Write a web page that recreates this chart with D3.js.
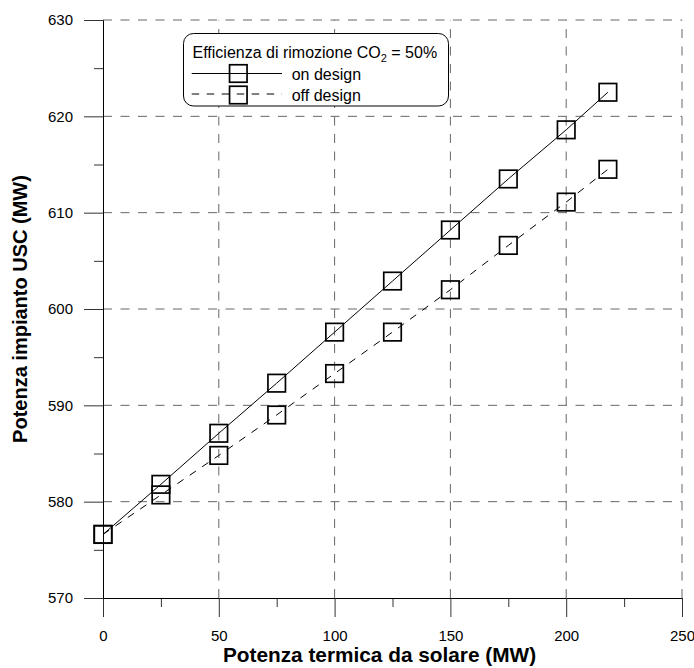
<!DOCTYPE html>
<html>
<head>
<meta charset="utf-8">
<script src="https://cdn.jsdelivr.net/npm/d3@7"></script>
<style>
  html, body { margin: 0; padding: 0; background: #fff; }
  svg { display: block; font-family: "Liberation Sans", Arial, sans-serif; }
</style>
</head>
<body>
<svg id="chart" width="694" height="668"></svg>
<script>
// ---- data ----
const solarPower = [0, 25, 50, 75, 100, 125, 150, 175, 200, 218];
const onDesign  = [576.6, 581.8, 587.1, 592.3, 597.6, 602.9, 608.2, 613.5, 618.6, 622.5];
const offDesign = [576.6, 580.7, 584.8, 589.0, 593.3, 597.6, 602.0, 606.6, 611.1, 614.5];
const xMajorTicks = [0, 50, 100, 150, 200, 250];
const xMinorTicks = [25, 75, 125, 175, 225];
const yMajorTicks = [570, 580, 590, 600, 610, 620, 630];
const yMinorTicks = [575, 585, 595, 605, 615, 625];
const legendTitle = "Efficienza di rimozione CO";
const legendLabels = ["on design", "off design"];
const xTitle = "Potenza termica da solare (MW)";
const yTitle = "Potenza impianto USC (MW)";

const svg = d3.select("#chart");
const x = d3.scaleLinear().domain([0, 250]).range([103, 682]);
const y = d3.scaleLinear().domain([570, 630]).range([598, 20]);

// ---- grid ----
const grid = svg.append("g").attr("stroke", "#666").attr("stroke-width", 1)
  .attr("stroke-dasharray", "9,8.5").attr("fill", "none");
grid.selectAll("line.h").data(yMajorTicks.slice(1)).join("line")
  .attr("x1", x(0)).attr("x2", x(250))
  .attr("y1", d => y(d)).attr("y2", d => y(d));
grid.selectAll("line.v").data(xMajorTicks.slice(1)).join("line")
  .attr("x1", d => x(d)).attr("x2", d => x(d))
  .attr("y1", y(570)).attr("y2", y(630));

// ---- axes ----
function styleAxis(g) {
  g.select(".domain").attr("stroke", "#000").attr("stroke-width", 1);
  g.selectAll(".tick line").attr("stroke", "#333").attr("stroke-width", 1);
  g.selectAll(".tick text").attr("fill", "#000")
    .style("font-family", '"Liberation Sans", Arial, sans-serif').style("font-size", "15px");
}
svg.append("g").attr("transform", `translate(0,${y(570)})`)
  .call(d3.axisBottom(x).tickValues(xMinorTicks).tickSize(9).tickSizeOuter(0).tickFormat(""))
  .call(styleAxis);
svg.append("g").attr("transform", `translate(${x(0)},0)`)
  .call(d3.axisLeft(y).tickValues(yMinorTicks).tickSize(9).tickSizeOuter(0).tickFormat(""))
  .call(styleAxis);
svg.append("g").attr("transform", `translate(0,${y(570)})`)
  .call(d3.axisBottom(x).tickValues(xMajorTicks).tickSize(19).tickPadding(13).tickSizeOuter(0).tickFormat(d3.format("d")))
  .call(styleAxis);
svg.append("g").attr("transform", `translate(${x(0)},0)`)
  .call(d3.axisLeft(y).tickValues(yMajorTicks).tickSize(19).tickPadding(11).tickSizeOuter(0).tickFormat(d3.format("d")))
  .call(styleAxis);

// ---- series ----
const line = d3.line().x((d, i) => x(solarPower[i])).y(d => y(d));
svg.append("path").datum(onDesign).attr("d", line)
  .attr("fill", "none").attr("stroke", "#000").attr("stroke-width", 1);
svg.append("path").datum(offDesign).attr("d", line)
  .attr("fill", "none").attr("stroke", "#000").attr("stroke-width", 1)
  .attr("stroke-dasharray", "7.5,7.5");

const S = 17.5;
[onDesign, offDesign].forEach(series => {
  svg.append("g").selectAll("rect").data(series).join("rect")
    .attr("x", (d, i) => x(solarPower[i]) - S / 2)
    .attr("y", d => y(d) - S / 2)
    .attr("width", S).attr("height", S)
    .attr("fill", "none").attr("stroke", "#000").attr("stroke-width", 1.7);
});

// ---- legend ----
const lg = svg.append("g");
lg.append("rect").attr("x", 183.5).attr("y", 33.5).attr("width", 265).attr("height", 72.5)
  .attr("rx", 10).attr("ry", 10).attr("fill", "#fff").attr("stroke", "#000").attr("stroke-width", 1);
const t = lg.append("text").attr("x", 192.5).attr("y", 58.3)
  .style("font-size", "16px").attr("fill", "#000");
t.append("tspan").text(legendTitle);
t.append("tspan").attr("dy", 4).style("font-size", "11px").text("2");
t.append("tspan").attr("dy", -4).text(" = 50%");

const rows = [{y: 73.5, ty: 80, dash: null}, {y: 94, ty: 100.7, dash: "7.5,7.5"}];
rows.forEach((r, i) => {
  lg.append("line").attr("x1", 191.7).attr("x2", 282).attr("y1", r.y).attr("y2", r.y)
    .attr("stroke", "#000").attr("stroke-width", 1).attr("stroke-dasharray", r.dash);
  lg.append("rect").attr("x", 238.3 - S / 2).attr("y", r.y - S / 2 + (i ? 1 : 0))
    .attr("width", S).attr("height", S)
    .attr("fill", "none").attr("stroke", "#000").attr("stroke-width", 1.7);
  lg.append("text").attr("x", 291.7).attr("y", r.ty).style("font-size", "16px")
    .attr("fill", "#000").text(legendLabels[i]);
});

// ---- axis titles ----
svg.append("text").attr("x", 379.5).attr("y", 662).attr("text-anchor", "middle")
  .style("font-size", "20.8px").style("font-weight", "bold").text(xTitle);
svg.append("text").attr("transform", `translate(27,309) rotate(-90)`).attr("text-anchor", "middle")
  .style("font-size", "20px").style("font-weight", "bold").text(yTitle);
</script>
</body>
</html>
